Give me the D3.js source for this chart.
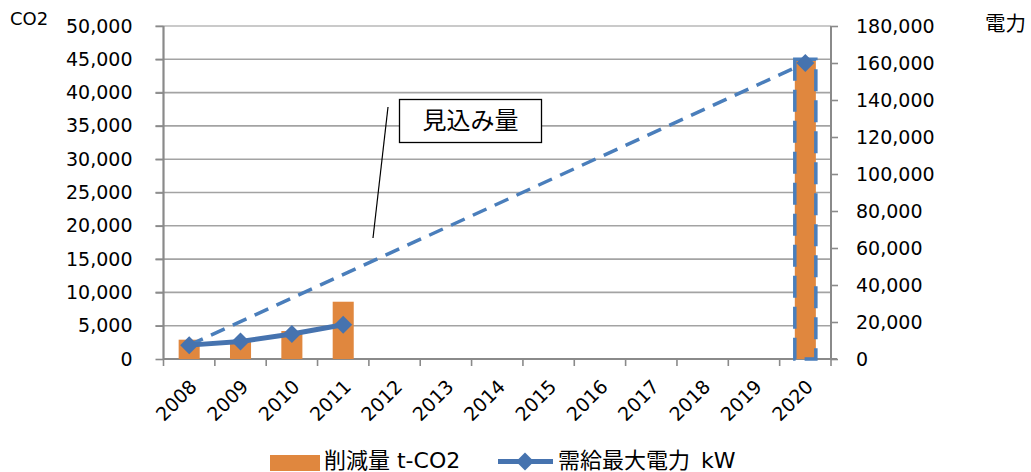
<!DOCTYPE html>
<html>
<head>
<meta charset="utf-8">
<script src="https://cdn.jsdelivr.net/npm/d3@7/dist/d3.min.js"></script>
<style>
  html, body { margin: 0; padding: 0; background: #fff; }
  svg { display: block; }
  text { font-family: "DejaVu Sans", "Noto Sans CJK JP", sans-serif; fill: #000; }
</style>
</head>
<body>
<svg id="chart" width="1031" height="472"></svg>
<script>
// ---- data ----
const years = ["2008","2009","2010","2011","2012","2013","2014","2015","2016","2017","2018","2019","2020"];
const reduction = [2900, 2800, 4200, 8600, null, null, null, null, null, null, null, null, 45000];   // 削減量 t-CO2 (left axis)
const demand    = [7500, 9500, 13500, 18500, null, null, null, null, null, null, null, null, 160000]; // 需給最大電力 kW (right axis)
const projection = [7500, null, null, null, null, null, null, null, null, null, null, null, 160000]; // 見込み量 (dashed)
const leftTicks  = [0, 5000, 10000, 15000, 20000, 25000, 30000, 35000, 40000, 45000, 50000];
const rightTicks = [0, 20000, 40000, 60000, 80000, 100000, 120000, 140000, 160000, 180000];
const seriesNames = ["削減量 t-CO2", "需給最大電力 kW"];
const leftTitle = "CO2", rightTitle = "電力", calloutText = "見込み量";

// ---- layout ----
const svg = d3.select("#chart");
const L = 163.5, R = 831, T = 26, B = 359;
const orange = "#E0873E", blue = "#4A7EBB", blueDark = "#4673AF";
const gridCol = "#a3a3a3", axisCol = "#8a8a8a";

const x = d3.scaleBand().domain(years).range([L, R]).padding(0);
const yL = d3.scaleLinear().domain([0, 50000]).range([B, T]);
const yR = d3.scaleLinear().domain([0, 180000]).range([B, T]);
const fmt = d3.format(",");

// gridlines
svg.append("g").selectAll("line").data(leftTicks.filter(d => d > 0)).join("line")
  .attr("x1", L - 8).attr("x2", R)
  .attr("y1", d => yL(d)).attr("y2", d => yL(d))
  .attr("stroke", (d) => d === 50000 ? "#b8b8b8" : gridCol).attr("stroke-width", 1.6);

// left axis
const gl = svg.append("g").attr("transform", `translate(${L},0)`)
  .call(d3.axisLeft(yL).tickValues(leftTicks).tickFormat(fmt).tickSize(8).tickPadding(23));
gl.select(".domain").attr("stroke", axisCol).attr("stroke-width", 2.2).attr("d", `M0,${T}V${B}`);
gl.selectAll(".tick line").attr("stroke", axisCol).attr("stroke-width", 1.6);
gl.selectAll(".tick text").attr("font-size", 19).attr("font-family", "DejaVu Sans");

// right axis
const gr = svg.append("g").attr("transform", `translate(${R},0)`)
  .call(d3.axisRight(yR).tickValues(rightTicks).tickFormat(fmt).tickSize(7).tickPadding(18));
gr.select(".domain").attr("stroke", axisCol).attr("stroke-width", 2).attr("d", `M0,${T}V${B}`);
gr.selectAll(".tick line").attr("stroke", axisCol).attr("stroke-width", 1.6);
gr.selectAll(".tick text").attr("font-size", 19).attr("font-family", "DejaVu Sans");

// bottom axis (category boundaries)
const bounds = d3.range(years.length + 1).map(i => L + i * x.step());
svg.append("line").attr("x1", L).attr("x2", R + 6).attr("y1", B).attr("y2", B)
  .attr("stroke", axisCol).attr("stroke-width", 2);
svg.append("g").selectAll("line").data(bounds).join("line")
  .attr("x1", d => d).attr("x2", d => d).attr("y1", B).attr("y2", B + 7)
  .attr("stroke", axisCol).attr("stroke-width", 1.6);
svg.append("g").selectAll("text").data(years).join("text")
  .attr("transform", d => `translate(${x(d) + x.bandwidth() / 2 + 9},${B + 29}) rotate(-45)`)
  .attr("text-anchor", "end").attr("font-size", 19).text(d => d);

// bars
const bw = x.bandwidth() * 0.41;
const barData = years.map((y, i) => ({ y, v: reduction[i], i })).filter(d => d.v != null);
svg.append("g").selectAll("rect").data(barData).join("rect")
  .attr("x", d => x(d.y) + (x.bandwidth() - bw) / 2)
  .attr("y", d => yL(d.v)).attr("width", bw).attr("height", d => yL(0) - yL(d.v))
  .attr("fill", orange)
  .attr("stroke", d => d.y === "2020" ? blue : "none")
  .attr("stroke-width", 3.5).attr("stroke-dasharray", "22,9");

// dashed projection
const cx = d => x(d) + x.bandwidth() / 2;
const projPts = years.map((y, i) => ({ y, v: projection[i] })).filter(d => d.v != null);
svg.append("path").datum(projPts)
  .attr("d", d3.line().x(d => cx(d.y)).y(d => yR(d.v)))
  .attr("fill", "none").attr("stroke", blue).attr("stroke-width", 3.5).attr("stroke-dasharray", "15,9");

// solid demand line
const dem = years.map((y, i) => ({ y, v: demand[i] }));
svg.append("path").datum(dem)
  .attr("d", d3.line().defined(d => d.v != null).x(d => cx(d.y)).y(d => yR(d.v)))
  .attr("fill", "none").attr("stroke", blueDark).attr("stroke-width", 5).attr("stroke-linejoin", "round");
const diamond = h => `M0,${-h}L${h},0L0,${h}L${-h},0Z`;
svg.append("g").selectAll("path").data(dem.filter(d => d.v != null)).join("path")
  .attr("transform", d => `translate(${cx(d.y)},${yR(d.v)})`)
  .attr("d", diamond(9)).attr("fill", blueDark);

// axis titles
svg.append("text").attr("x", 10).attr("y", 25).attr("font-size", 18).text(leftTitle);
svg.append("text").attr("x", 985).attr("y", 31).attr("font-size", 20.5).attr("font-family", "Noto Sans CJK JP").text(rightTitle);

// callout
svg.append("line").attr("x1", 388).attr("y1", 107).attr("x2", 373).attr("y2", 238)
  .attr("stroke", "#000").attr("stroke-width", 1.2);
svg.append("rect").attr("x", 399.5).attr("y", 99.5).attr("width", 142).attr("height", 43)
  .attr("fill", "#fff").attr("stroke", "#000").attr("stroke-width", 1.3);
svg.append("text").attr("x", 470.5).attr("y", 121).attr("text-anchor", "middle")
  .attr("dominant-baseline", "central").attr("font-size", 24)
  .attr("font-family", "Noto Sans CJK JP").text(calloutText);

// legend
const lg = svg.append("g");
lg.append("rect").attr("x", 270).attr("y", 455).attr("width", 50).attr("height", 16).attr("fill", orange);
lg.append("text").attr("x", 324).attr("y", 468).attr("font-size", 22).text(seriesNames[0]);
lg.append("line").attr("x1", 498).attr("x2", 553).attr("y1", 461.5).attr("y2", 461.5)
  .attr("stroke", blueDark).attr("stroke-width", 5);
lg.append("path").attr("transform", "translate(525,461.5)").attr("d", diamond(9)).attr("fill", blueDark);
lg.append("text").attr("x", 558).attr("y", 468).attr("font-size", 22).attr("word-spacing", 4).text(seriesNames[1]);
</script>
</body>
</html>
